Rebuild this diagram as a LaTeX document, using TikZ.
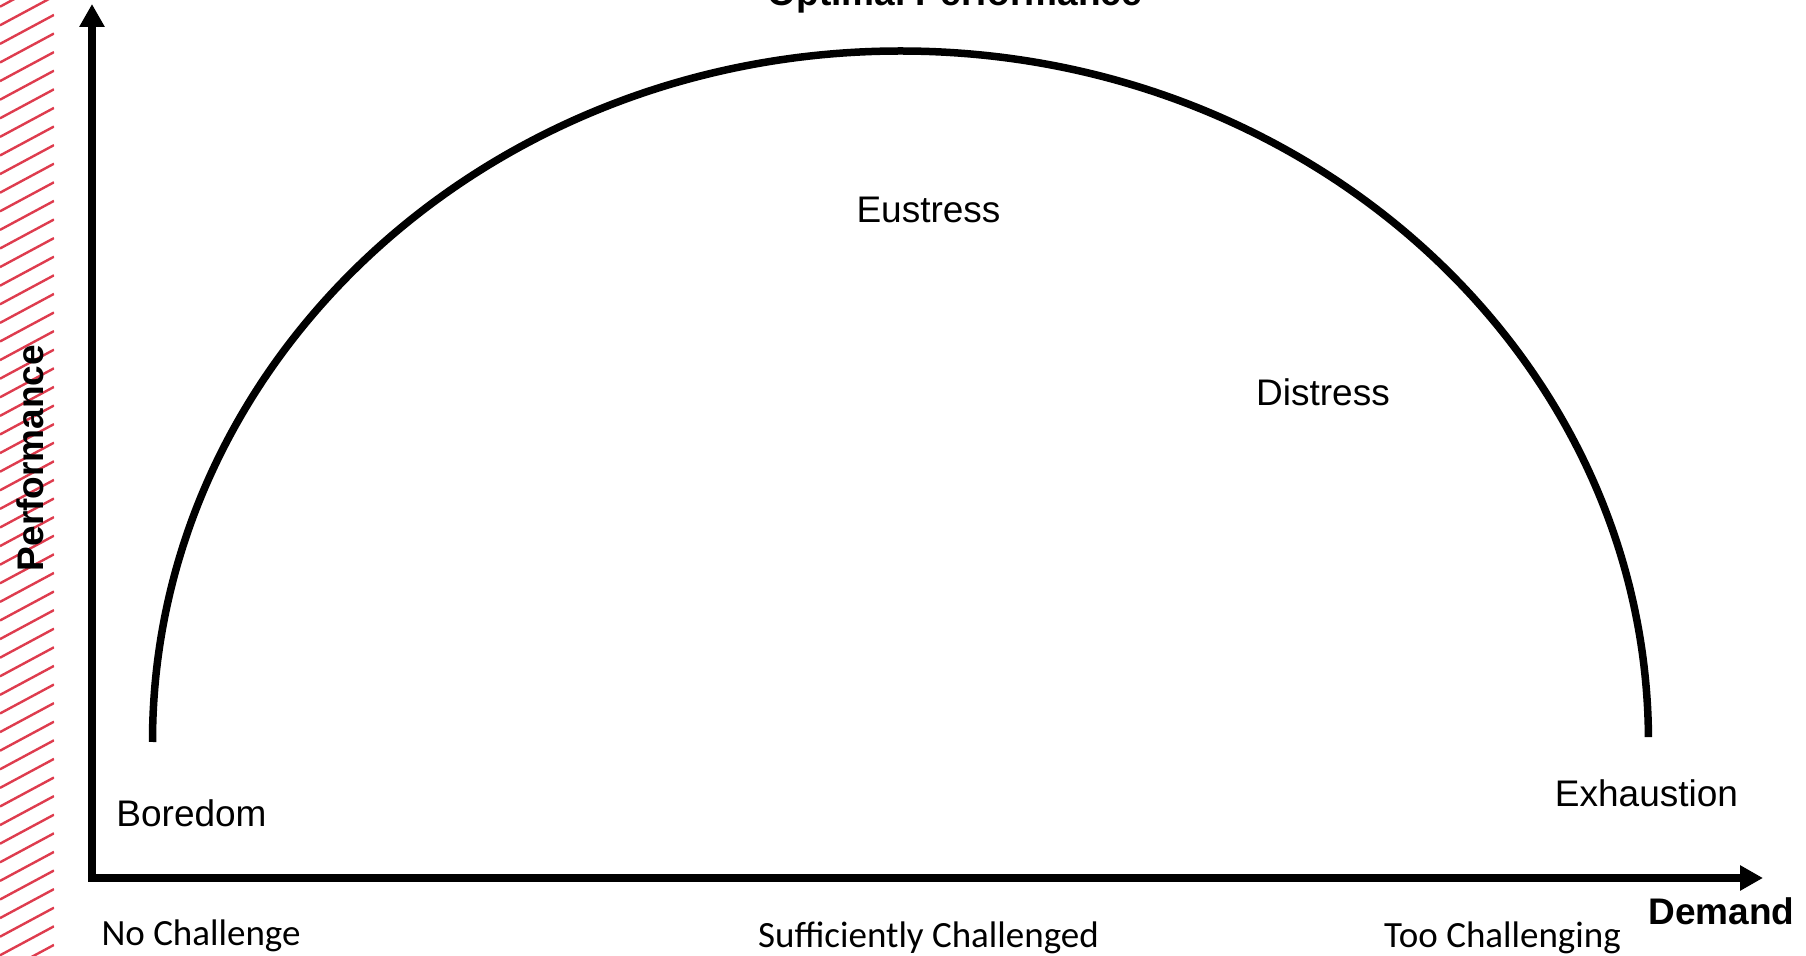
\documentclass[tikz,border=0pt]{standalone}
\usepackage{fontspec}
\setmainfont{Liberation Sans}
\newfontfamily\calibrifont{Carlito}
\usepackage{xcolor}
\usepackage{tikz}
\usetikzlibrary{arrows.meta}
\definecolor{hatchred}{HTML}{DE3C4E}
\definecolor{ink}{HTML}{000000}
\tikzset{
    axisline/.style={draw=ink,line width=4pt,line join=miter,
      {Triangle[length=11.5pt,width=12pt]}-{Triangle[length=11.5pt,width=12pt]}},
    stresscurve/.style={draw=ink,line width=3.75pt},
    hatchline/.style={draw=hatchred,line width=1.2pt},
    zonelabel/.style={inner sep=0pt,anchor=base,text=ink,
      font=\fontsize{18.5}{22}\selectfont},
    axislabel/.style={zonelabel,font=\fontsize{18.5}{22}\selectfont\bfseries},
    levellabel/.style={inner sep=0pt,anchor=base,text=ink,
      font=\calibrifont\fontsize{18.5}{22}\selectfont}
}
\begin{document}
\begin{tikzpicture}[x=0.5pt,y=-0.5pt]
  \useasboundingbox (0,0) rectangle (1806,956);
  \begin{scope}
    \clip (0,0) rectangle (54,956);
    \foreach \k in {-8,...,47}
      \draw[hatchline] (0,{118.3+18.6*\k}) -- ++(54,-29);
  \end{scope}
  \coordinate (origin) at (92,878);
  \coordinate (ytip) at (92,4);
  \coordinate (xtip) at (1763,878);
  \draw[axisline] (ytip) |- (xtip);
  \coordinate (curvestart) at (152.5,742);
  \draw[stresscurve] (curvestart) arc[start angle=180,end angle=359.6,
    x radius=748,y radius=691];
  \node[axislabel] (optimal) at (955,6) {Optimal Performance};
  \node[zonelabel] (eustress) at (928.5,223) {Eustress};
  \node[zonelabel] (distress) at (1323,406) {Distress};
  \node[zonelabel] (boredom) at (191.5,827) {Boredom};
  \node[zonelabel] (exhaustion) at (1646.5,807) {Exhaustion};
  \node[axislabel] (demand) at (1721.5,924) {Demand};
  \node[axislabel,rotate=90] (performance) at (43,458) {Performance};
  \node[levellabel] (nochallenge) at (201,945) {No Challenge};
  \node[levellabel] (sufficient) at (928.5,947) {Sufficiently Challenged};
  \node[levellabel] (toochallenging) at (1502.5,947) {Too Challenging};
\end{tikzpicture}
\end{document}
